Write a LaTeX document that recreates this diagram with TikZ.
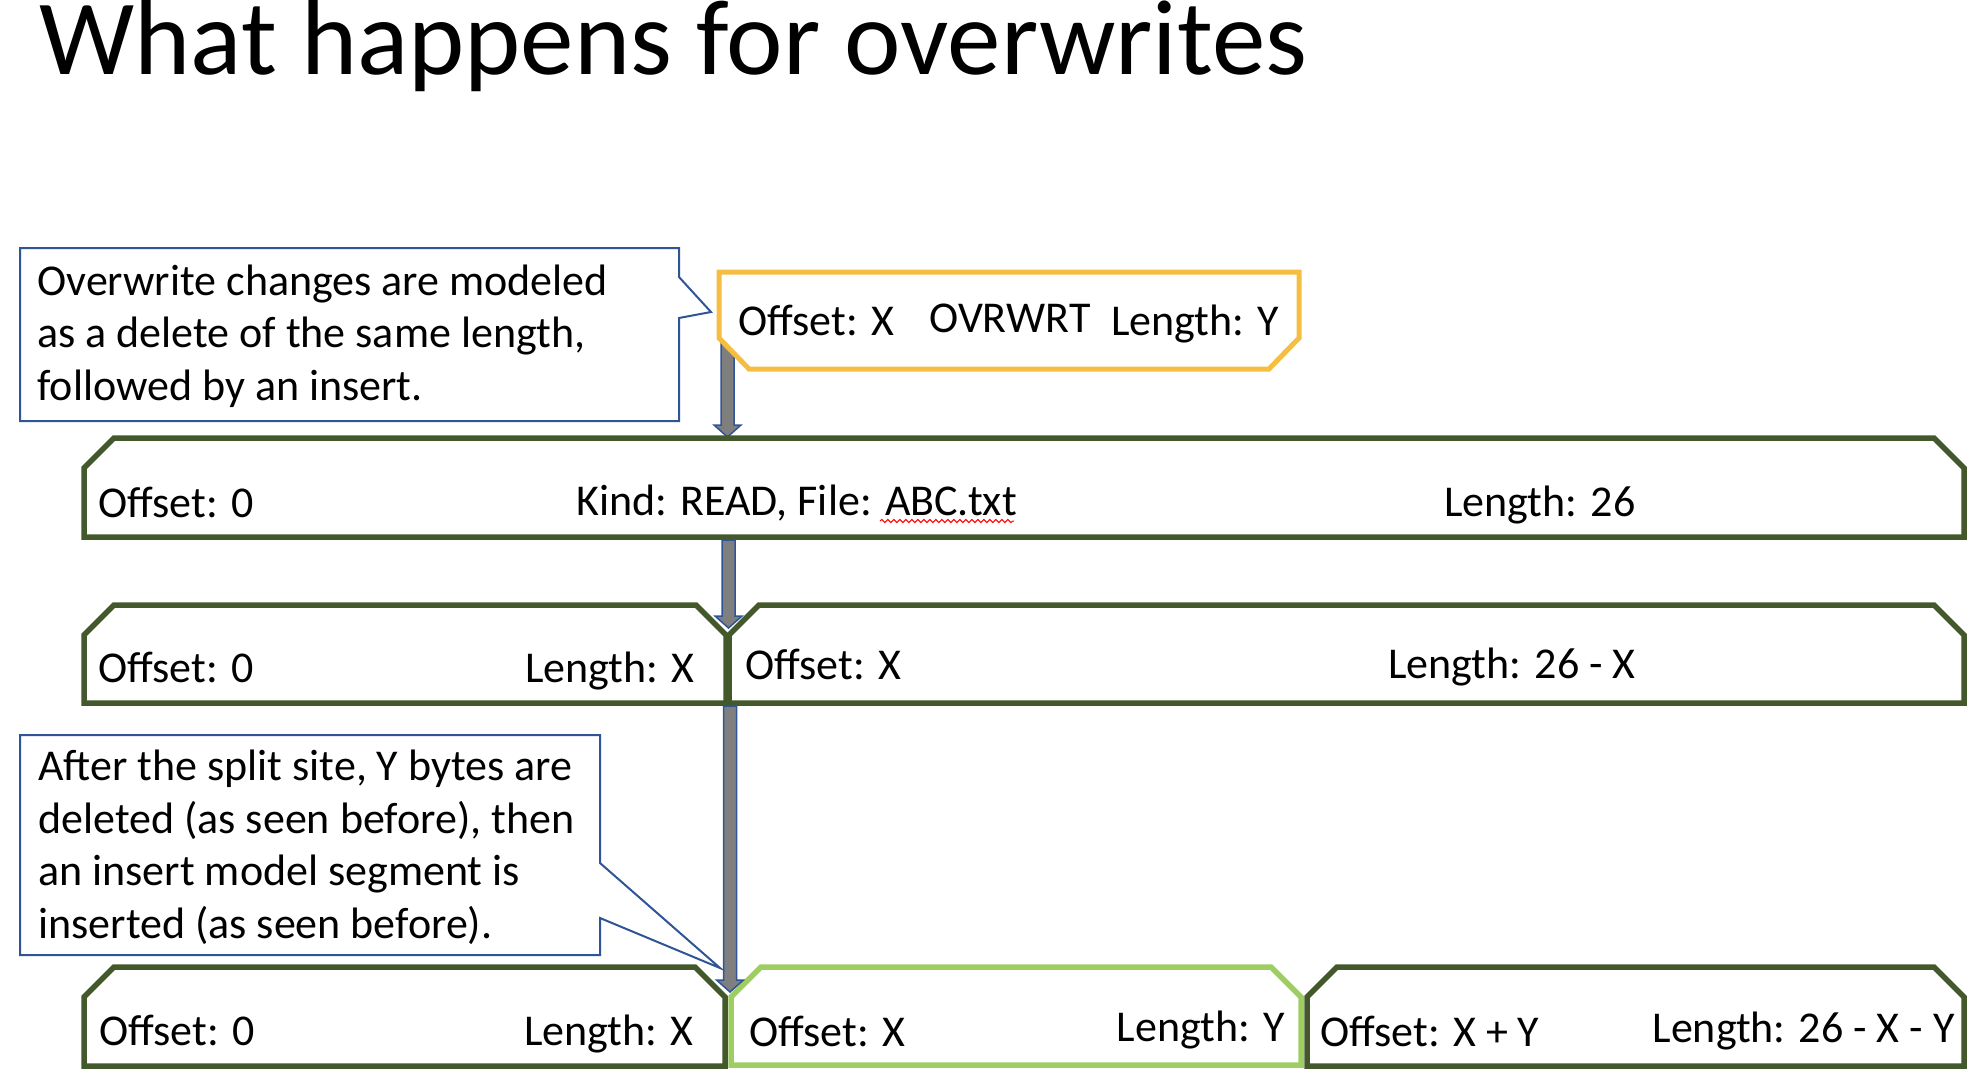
\documentclass[tikz,border=0pt]{standalone}
\usepackage{fontspec}
\setmainfont{Carlito}
\usetikzlibrary{calc,decorations.pathmorphing}
\definecolor{dkgreen}{HTML}{43592B}
\definecolor{ltgreen}{HTML}{9ECD62}
\definecolor{ovryellow}{HTML}{F5BE40}
\definecolor{callblue}{HTML}{2F5597}
\definecolor{arrowgray}{HTML}{7F7F7F}
\tikzset{
  segline/.style={draw=dkgreen, line width=2.75pt, fill=white},
  insline/.style={draw=ltgreen, line width=2.75pt, fill=white},
  ovrline/.style={draw=ovryellow, line width=2.5pt, fill=white},
  lbl/.style={font=\fontsize{22pt}{26.25pt}\selectfont, inner sep=0pt, text=black},
  titlefont/.style={font=\fontsize{53.5pt}{60pt}\selectfont, inner sep=0pt, text=black},
  callout/.style={draw=callblue, line width=1pt, fill=white},
  blockarrow/.style={draw=callblue, fill=arrowgray, line width=0.75pt, line join=miter},
  squiggle/.style={draw=red, line width=0.5pt, decorate, decoration={snake, amplitude=0.8pt, segment length=3pt}}
}
% box with both top corners cut: name, x1, y1, x2, y2, style
\newcommand{\topcutbox}[6]{%
  \draw[#6] (#2,#5) -- (#2,#3+30) -- (#2+30,#3) -- (#4-30,#3) -- (#4,#3+30) -- (#4,#5) -- cycle;
  \coordinate (#1) at ({(#2+#4)/2},{(#3+#5)/2});
}
% downward block arrow between two named coordinates
\newcommand{\blockarr}[2]{%
  \draw[blockarrow] let \p1=(#1), \p2=(#2) in
    ({\x1-3.25pt},\y1) -- ({\x1-3.25pt},{\y2+6pt}) -- ({\x1-6.75pt},{\y2+6pt}) -- (\x1,\y2)
    -- ({\x1+6.75pt},{\y2+6pt}) -- ({\x1+3.25pt},{\y2+6pt}) -- ({\x1+3.25pt},\y1) -- cycle;
}
\begin{document}
\begin{tikzpicture}[x=0.5pt,y=-0.5pt]
\useasboundingbox (0,0) rectangle (1972,1072);

% title
\node[titlefont, anchor=base west] (title) at (39,74) {What happens for overwrites};

% arrow 1 (behind the overwrite box)
\coordinate (a1s) at (727.5,320);
\coordinate (a1e) at (727.5,437);
\blockarr{a1s}{a1e}

% overwrite box (bottom corners cut)
\draw[ovrline] (719,272) -- (1299,272) -- (1299,338) -- (1269,369) -- (749,369) -- (719,338) -- cycle;
\coordinate (ovr) at (1009,320);
\node[lbl, anchor=base west] (ovroff) at (738,335) {Offset: X};
\node[lbl, anchor=base west] (ovrkind) at (929,332) {OVRWRT};
\node[lbl, anchor=base west] (ovrlen) at (1111,335) {Length: Y};

% row 1
\topcutbox{read}{84}{438}{1964}{537}{segline}
\node[lbl, anchor=base west] (r1off) at (98,517) {Offset: 0};
\node[lbl, anchor=base west] (r1kind) at (576,515) {Kind: READ, File: ABC.txt};
\node[lbl, anchor=base west] (r1len) at (1444,516) {Length: 26};
\draw[squiggle] (880,521) -- (1014,521);

% row 2
\topcutbox{splitA}{84}{605}{726}{703}{segline}
\topcutbox{splitB}{729}{605}{1964}{703}{segline}
\node[lbl, anchor=base west] (r2off) at (98,682) {Offset: 0};
\node[lbl, anchor=base east] (r2len) at (695,682) {Length: X};
\node[lbl, anchor=base west] (r2offb) at (745,679) {Offset: X};
\node[lbl, anchor=base west] (r2lenb) at (1388,678) {Length: 26 - X};

% row 3
\topcutbox{finA}{84}{967}{725}{1066}{segline}
\topcutbox{finC}{1307}{967}{1964}{1066}{segline}
\topcutbox{finB}{731}{967}{1301}{1065}{insline}
\node[lbl, anchor=base west] (r3off) at (99,1045) {Offset: 0};
\node[lbl, anchor=base east] (r3len) at (694,1045) {Length: X};
\node[lbl, anchor=base west] (r3offb) at (749,1046) {Offset: X};
\node[lbl, anchor=base east] (r3lenb) at (1285,1041) {Length: Y};
\node[lbl, anchor=base west] (r3offc) at (1320,1046) {Offset: X + Y};
\node[lbl, anchor=base east] (r3lenc) at (1955,1042) {Length: 26 - X - Y};

% arrows 2 and 3
\coordinate (a2s) at (728.5,540);
\coordinate (a2e) at (728.5,628);
\blockarr{a2s}{a2e}
\coordinate (a3s) at (730,706);
\coordinate (a3e) at (730,992);
\blockarr{a3s}{a3e}

% callout 1
\draw[callout] (20,248) -- (679,248) -- (679,277) -- (711,312) -- (679,318) -- (679,421) -- (20,421) -- cycle;
\node[lbl, anchor=base west, align=left] (c1text) at (37,400)
  {Overwrite changes are modeled\\as a delete of the same length,\\followed by an insert.};

% callout 2
\draw[callout] (20,735) -- (600,735) -- (600,863) -- (720,968) -- (600,918) -- (600,955) -- (20,955) -- cycle;
\node[lbl, anchor=base west, align=left] (c2text) at (38,938)
  {After the split site, Y bytes are\\deleted (as seen before), then\\an insert model segment is\\inserted (as seen before).};
\end{tikzpicture}
\end{document}
